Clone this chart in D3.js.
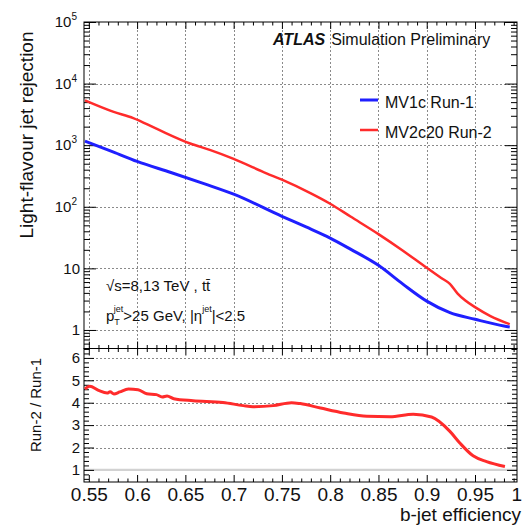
<!DOCTYPE html>
<html><head><meta charset="utf-8">
<script src="https://cdn.jsdelivr.net/npm/d3@7"></script>
<style>
body{margin:0;background:#fff;}
svg{display:block;font-family:"Liberation Sans",Arial,Helvetica,sans-serif;}
</style></head>
<body><svg id="c" width="523" height="525"></svg>
<script>
// ---- data ----
const effBlue = [0.546, 0.575, 0.600, 0.635, 0.670, 0.700, 0.750, 0.775, 0.800, 0.821, 0.850, 0.875, 0.900, 0.924, 0.950, 0.980, 0.986];
const rejBlue = [1160, 780, 545, 360, 235, 160, 70, 47, 31, 20.5, 11.2, 5.6, 2.94, 1.91, 1.49, 1.16, 1.12];
const effRed = [0.546, 0.575, 0.596, 0.620, 0.655, 0.676, 0.700, 0.734, 0.750, 0.780, 0.800, 0.821, 0.850, 0.875, 0.900, 0.915, 0.924, 0.932, 0.940, 0.950, 0.966, 0.986];
const rejRed = [5330, 3500, 2750, 1850, 1065, 832, 600, 349, 275, 165, 112, 69.5, 36, 19.5, 10.2, 7.0, 5.6, 3.9, 3.0, 2.35, 1.68, 1.24];
const ratioEff = [0.546, 0.551, 0.560, 0.569, 0.572, 0.576, 0.582, 0.591, 0.601, 0.610, 0.620, 0.626, 0.631, 0.638, 0.658, 0.689, 0.710, 0.720, 0.741, 0.760, 0.769, 0.790, 0.814, 0.838, 0.862, 0.886, 0.905, 0.924, 0.9345, 0.948, 0.962, 0.981];
const ratioVal = [4.61, 4.73, 4.55, 4.43, 4.49, 4.39, 4.48, 4.61, 4.58, 4.40, 4.36, 4.26, 4.30, 4.18, 4.09, 4.01, 3.87, 3.82, 3.87, 4.00, 3.96, 3.76, 3.54, 3.39, 3.37, 3.48, 3.36, 2.72, 2.19, 1.63, 1.37, 1.15];
const seriesNames = ["MV1c Run-1", "MV2c20 Run-2"];
const seriesColors = ["#1f1fff", "#ff2b2b"];
const xTicks = [0.55, 0.6, 0.65, 0.7, 0.75, 0.8, 0.85, 0.9, 0.95, 1.0];
const xTickLabels = ["0.55", "0.6", "0.65", "0.7", "0.75", "0.8", "0.85", "0.9", "0.95", "1"];
const yTicks = [1, 10, 100, 1000, 10000, 100000];
const yTickBase = ["1", "10", "10", "10", "10", "10"];
const yTickExp = ["", "", "2", "3", "4", "5"];
const rTicks = [1, 2, 3, 4, 5, 6];
const rTickLabels = ["1", "2", "3", "4", "5", "6"];

// ---- layout ----
const L = 84, R = 517, T1 = 22, B1 = 348.5, B2 = 482;
const svg = d3.select("#c");
const x = d3.scaleLinear().domain([0.545, 0.9935]).range([L, R]);
const y = d3.scaleLog().domain([0.5, 1e5]).range([B1, T1]);
const yr = d3.scaleLinear().domain([0.46, 6.42]).range([B2, B1]);
const px = v => Math.round(v) + 0.5;

const xMinor = d3.range(55, 100).map(v => v / 100).filter(v => Math.round(v * 100) % 5 !== 0);
const xMajorIn = xTicks.filter(v => v <= 0.9935);
const yMinor = [];
for (let e = -1; e <= 4; e++) for (let k = 2; k <= 9; k++) { const v = k * Math.pow(10, e); if (v >= 0.5 && v <= 1e5) yMinor.push(v); }
const rMinor = d3.range(5, 65).map(v => v / 10).filter(v => v >= 0.46 && v <= 6.42 && Math.round(v * 10) % 10 !== 0 && Math.round(v * 10) % 2 === 0);

// grids
const grid = svg.append("g").attr("stroke", "#8a8a8a").attr("stroke-width", 1).attr("stroke-dasharray", "2,2");
grid.selectAll("line.vx").data(xMajorIn).join("line").attr("class", "vx")
  .attr("x1", d => px(x(d))).attr("x2", d => px(x(d))).attr("y1", T1).attr("y2", B1);
grid.selectAll("line.hy").data(yTicks.filter(d => d < 1e5)).join("line").attr("class", "hy")
  .attr("x1", L).attr("x2", R).attr("y1", d => px(y(d))).attr("y2", d => px(y(d)));
grid.selectAll("line.hr").data(rTicks.filter(d => d > 1)).join("line").attr("class", "hr")
  .attr("x1", L).attr("x2", R).attr("y1", d => px(yr(d))).attr("y2", d => px(yr(d)));
svg.append("line").attr("x1", L).attr("x2", R).attr("y1", yr(1)).attr("y2", yr(1))
  .attr("stroke", "#d2d2d2").attr("stroke-width", 2.2);

// axes helper
function ax(gen, tx, ty, size, vals, fmt) {
  const a = gen.tickValues(vals).tickSizeInner(size).tickSizeOuter(0).tickFormat(fmt || "");
  const g = svg.append("g").attr("transform", `translate(${tx},${ty})`).call(a);
  g.select(".domain").remove();
  g.selectAll("line").attr("stroke", "#000");
  return g;
}
// top panel
ax(d3.axisTop(x), 0, T1, -7, xMajorIn);
ax(d3.axisTop(x), 0, T1, -3.5, xMinor);
ax(d3.axisBottom(x), 0, B1, -7, xMajorIn);
ax(d3.axisBottom(x), 0, B1, -3.5, xMinor);
const gy = ax(d3.axisLeft(y), L, 0, -12, yTicks, (d, i) => yTickBase[i]);
ax(d3.axisLeft(y), L, 0, -6, yMinor);
ax(d3.axisRight(y), R, 0, -12, yTicks);
ax(d3.axisRight(y), R, 0, -6, yMinor);
gy.selectAll("text").each(function (d, i) {
  const t = d3.select(this);
  t.attr("font-size", 15).attr("font-family", null).attr("fill", "#111");
  if (yTickExp[i]) {
    t.attr("x", -7);
    t.append("tspan").attr("font-size", 10).attr("dy", "-0.7em").text(yTickExp[i]);
  } else t.attr("x", -4);
});
// ratio panel
ax(d3.axisTop(x), 0, B1, -7, xMajorIn);
ax(d3.axisTop(x), 0, B1, -3.5, xMinor);
const gx = ax(d3.axisBottom(x), 0, B2, -7, xTicks, (d, i) => xTickLabels[i]).call(g => g.select(".tick:last-of-type line").remove());
gx.selectAll("text").attr("font-size", 19).attr("font-family", null).attr("fill", "#111").attr("y", 5.5);
gx.select(".tick:last-of-type text").attr("x", -7);
ax(d3.axisBottom(x), 0, B2, -3.5, xMinor);
const gr = ax(d3.axisLeft(yr), L, 0, -10, rTicks, (d, i) => rTickLabels[i]);
gr.selectAll("text").attr("font-size", 15).attr("font-family", null).attr("fill", "#111").attr("x", -4);
ax(d3.axisLeft(yr), L, 0, -5, rMinor);
ax(d3.axisRight(yr), R, 0, -10, rTicks);
ax(d3.axisRight(yr), R, 0, -5, rMinor);

// frames
svg.append("rect").attr("x", L).attr("y", T1).attr("width", R - L).attr("height", B1 - T1).attr("fill", "none").attr("stroke", "#000");
svg.append("rect").attr("x", L).attr("y", B1).attr("width", R - L).attr("height", B2 - B1).attr("fill", "none").attr("stroke", "#000");

// curves
const line = d3.line().x(d => x(d[0])).y(d => y(d[1])).curve(d3.curveMonotoneX);
svg.append("path").datum(d3.zip(effBlue, rejBlue)).attr("d", line)
  .attr("fill", "none").attr("stroke", seriesColors[0]).attr("stroke-width", 3);
svg.append("path").datum(d3.zip(effRed, rejRed)).attr("d", line)
  .attr("fill", "none").attr("stroke", seriesColors[1]).attr("stroke-width", 2.5);
const rline = d3.line().x(d => x(d[0])).y(d => yr(d[1])).curve(d3.curveMonotoneX);
svg.append("path").datum(d3.zip(ratioEff, ratioVal)).attr("d", rline)
  .attr("fill", "none").attr("stroke", seriesColors[1]).attr("stroke-width", 3);

// legend
seriesNames.forEach((n, i) => {
  const ly = 100 + i * 30;
  svg.append("line").attr("x1", 360).attr("x2", 378).attr("y1", ly).attr("y2", ly)
    .attr("stroke", seriesColors[i]).attr("stroke-width", i ? 2.5 : 3);
  svg.append("text").attr("x", 385).attr("y", ly + 7.5).attr("font-size", 16).attr("fill", "#111").text(n);
});

// labels
const atl = svg.append("text").attr("x", 273).attr("y", 45).attr("font-size", 16).attr("fill", "#111");
atl.append("tspan").attr("font-weight", "bold").attr("font-style", "italic").text("ATLAS");
atl.append("tspan").attr("dx", 6).text("Simulation Preliminary");

svg.append("text").attr("x", 106).attr("y", 291).attr("font-size", 15).attr("fill", "#111").text("√s=8,13 TeV , tt\u0304");
const t2 = svg.append("text").attr("x", 106).attr("y", 321).attr("font-size", 15).attr("fill", "#111");
t2.append("tspan").text("p");
t2.append("tspan").attr("font-size", 9).attr("dy", 4).text("T");
t2.append("tspan").attr("font-size", 9).attr("dx", -6).attr("dy", -13).text("jet");
t2.append("tspan").attr("dy", 9).text(">25 GeV, |η");
t2.append("tspan").attr("font-size", 9).attr("dy", -9).text("jet");
t2.append("tspan").attr("dy", 9).text("|<2.5");

svg.append("text").attr("transform", `translate(33,${(30 + 240) / 2}) rotate(-90)`).attr("text-anchor", "middle")
  .attr("font-size", 19).attr("fill", "#111").text("Light-flavour jet rejection");
svg.append("text").attr("transform", `translate(41,405) rotate(-90)`).attr("text-anchor", "middle")
  .attr("font-size", 15).attr("fill", "#111").text("Run-2 / Run-1");
svg.append("text").attr("x", 521).attr("y", 521).attr("text-anchor", "end")
  .attr("font-size", 19).attr("fill", "#111").text("b-jet efficiency");
</script></body></html>
